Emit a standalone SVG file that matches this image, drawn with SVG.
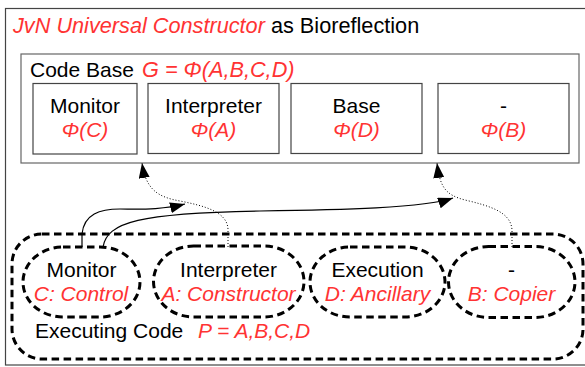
<svg xmlns="http://www.w3.org/2000/svg" width="585" height="367" viewBox="0 0 585 367">
<style>
text{font-family:"Liberation Sans",Arial,sans-serif;font-size:21px;fill:#000}
.r{fill:#ff3333;font-style:italic}
.m{text-anchor:middle}
.t{font-size:21.7px}
.box{fill:#fff;stroke:#444;stroke-width:1.2}
.dash{fill:none;stroke:#000;stroke-width:3;stroke-dasharray:7.5 4.5}
.solid{fill:none;stroke:#000;stroke-width:1.2}
.dot{fill:none;stroke:#000;stroke-width:1;stroke-dasharray:1 2}
</style>
<defs>
<marker id="ah" markerUnits="userSpaceOnUse" markerWidth="15" markerHeight="11" refX="15" refY="5.5" orient="auto">
<path d="M0,0 L15,5.5 L0,11 z" fill="#000"/>
</marker>
</defs>
<rect width="585" height="367" fill="#fff"/>
<g id="frame">
<rect x="5.5" y="8.5" width="590" height="356.5" fill="#fff" stroke="#444" stroke-width="1.2"/>
<text class="t" x="13" y="33"><tspan class="r">JvN Universal Constructor</tspan> as Bioreflection</text>
</g>
<g id="codebase">
<rect x="21" y="54" width="558" height="109" fill="#fff" stroke="#666" stroke-width="1.2"/>
<text x="30" y="77">Code Base <tspan class="r t" x="142">G = Φ(A,B,C,D)</tspan></text>
</g>
<g id="box-monitor">
<rect class="box" x="33" y="83.5" width="104" height="70.5"/>
<text class="m" x="85" y="113">Monitor</text>
<text class="m r" x="85" y="137">Φ(C)</text>
</g>
<g id="box-interpreter">
<rect class="box" x="148" y="83.5" width="131" height="70"/>
<text class="m" x="213.5" y="113">Interpreter</text>
<text class="m r" x="213.5" y="137">Φ(A)</text>
</g>
<g id="box-base">
<rect class="box" x="291" y="83.5" width="131" height="70"/>
<text class="m" x="356.5" y="113">Base</text>
<text class="m r" x="356.5" y="137">Φ(D)</text>
</g>
<g id="box-dash">
<rect class="box" x="438" y="83.5" width="131" height="70"/>
<text class="m" x="503.5" y="113">-</text>
<text class="m r" x="503.5" y="137">Φ(B)</text>
</g>
<g id="executing">
<rect class="dash" x="12" y="234" width="571" height="125" rx="30" ry="30"/>
<text x="35" y="338">Executing Code</text>
<text class="r" x="198" y="338">P = A,B,C,D</text>
</g>
<g id="ex-monitor">
<rect class="dash" x="23" y="247" width="117" height="70" rx="40" ry="35"/>
<text class="m" x="81.5" y="277">Monitor</text>
<text class="m r" x="81" y="301">C: Control</text>
</g>
<g id="ex-interpreter">
<rect class="dash" x="153.5" y="246" width="150.5" height="71" rx="40" ry="35.5"/>
<text class="m" x="228.5" y="277">Interpreter</text>
<text class="m r" x="228.5" y="301">A: Constructor</text>
</g>
<g id="ex-execution">
<rect class="dash" x="310" y="247" width="135" height="70" rx="40" ry="35"/>
<text class="m" x="377.5" y="277">Execution</text>
<text class="m r" x="377.5" y="301">D: Ancillary</text>
</g>
<g id="ex-copier">
<rect class="dash" x="448.5" y="246.5" width="126.5" height="71" rx="40" ry="35.5"/>
<text class="m" x="511.5" y="277">-</text>
<text class="m r" x="511.5" y="301">B: Copier</text>
</g>
<g id="connectors">
<path class="solid" d="M82 247 L82 234 C84 214 100 209 120 209 C140 209 162 210 185 204" marker-end="url(#ah)"/>
<path class="solid" d="M103 247 C107 222 140 213 260 211 C340 210 425 208 453 198" marker-end="url(#ah)"/>
<path class="dot" d="M228 247 L228 230 C228 212 205 206 180 201 C158 197 146 190 142 163" marker-end="url(#ah)"/>
<path class="dot" d="M512 247 L512 230 C511 212 490 206 465 200 C446 195 440 188 437 163" marker-end="url(#ah)"/>
</g>
</svg>
